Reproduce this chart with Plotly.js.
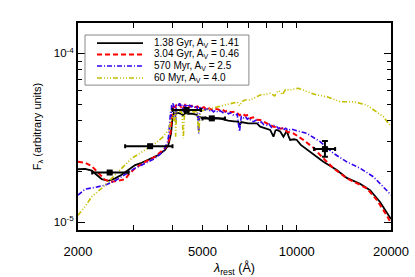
<!DOCTYPE html>
<html>
<head>
<meta charset="utf-8">
<script src="https://cdn.plot.ly/plotly-3.0.1.min.js"></script>
<style>html,body{margin:0;padding:0;background:#fff;}#chart{width:415px;height:277px;}</style>
</head>
<body>
<div id="chart"></div>
<script>
// ---- Data (wavelength in Angstrom, flux in arbitrary units) ----
const blackLam = [2000,2108,2213,2297,2382,2502,2628,2759,2898,3044,3196,3400,3613,3794,3888,3966,4012,4054,4100,4150,4250,4340,4400,4500,4600,4700,4800,4861,4900,4990,5100,5250,5400,5613,5800,6041,6300,6502,6563,6650,6998,7459,7642,7900,8223,8425,8550,8638,8850,9067,9200,9296,9400,9523,9800,10004,10300,11030,12165,13424,14444,15926,17141,18448,19383,20000];
const blackFlux = [2.06e-5,2.07e-5,2.02e-5,1.91e-5,1.80e-5,1.76e-5,1.82e-5,1.91e-5,2.04e-5,2.18e-5,2.25e-5,2.36e-5,2.50e-5,2.68e-5,2.87e-5,3.36e-5,4.22e-5,4.49e-5,4.35e-5,4.45e-5,4.40e-5,4.30e-5,4.42e-5,4.38e-5,4.40e-5,4.36e-5,4.32e-5,4.10e-5,4.20e-5,4.13e-5,4.18e-5,4.10e-5,4.15e-5,4.13e-5,4.05e-5,3.99e-5,3.96e-5,3.94e-5,3.75e-5,3.92e-5,3.85e-5,3.85e-5,3.68e-5,3.62e-5,3.52e-5,3.21e-5,3.50e-5,3.52e-5,3.45e-5,3.21e-5,3.40e-5,3.48e-5,3.25e-5,3.07e-5,3.10e-5,3.07e-5,2.87e-5,2.61e-5,2.28e-5,2.04e-5,1.83e-5,1.69e-5,1.55e-5,1.32e-5,1.15e-5,1.045e-5];

const redLam = [2000,2108,2213,2325,2443,2563,2692,2829,2898,3044,3277,3526,3701,3839,3880,3937,3960,3983,4000,4033,4060,4090,4120,4150,4184,4230,4270,4310,4350,4400,4450,4500,4560,4612,4680,4750,4820,4880,4965,5050,5150,5250,5350,5450,5613,5700,5800,5900,6000,6150,6345,6450,6563,6700,6850,6998,7101,7250,7400,7642,7800,8000,8200,8425,8650,8850,9067,9296,9500,9758,10502,11303,11872,13094,14444,15545,16731,18008,19383,20000];
const redFlux = [2.28e-5,2.25e-5,2.15e-5,1.95e-5,1.78e-5,1.74e-5,1.76e-5,1.80e-5,1.91e-5,2.09e-5,2.28e-5,2.44e-5,2.62e-5,2.80e-5,2.95e-5,3.21e-5,3.60e-5,4.03e-5,4.60e-5,4.83e-5,4.95e-5,4.75e-5,4.95e-5,4.85e-5,4.88e-5,4.98e-5,4.82e-5,4.92e-5,4.80e-5,4.95e-5,4.85e-5,4.93e-5,4.82e-5,4.88e-5,4.95e-5,4.80e-5,4.85e-5,4.72e-5,4.73e-5,4.80e-5,4.65e-5,4.72e-5,4.62e-5,4.70e-5,4.66e-5,4.58e-5,4.64e-5,4.52e-5,4.58e-5,4.48e-5,4.51e-5,4.44e-5,4.30e-5,4.40e-5,4.28e-5,4.31e-5,4.13e-5,4.18e-5,4.05e-5,4.03e-5,3.95e-5,3.88e-5,3.78e-5,3.68e-5,3.66e-5,3.58e-5,3.60e-5,3.44e-5,3.40e-5,3.36e-5,3.07e-5,2.76e-5,2.50e-5,2.09e-5,1.82e-5,1.70e-5,1.59e-5,1.36e-5,1.10e-5,0.986e-5];

const blueLam = [2000,2108,2270,2443,2628,2829,3044,3277,3526,3747,3867,3900,3920,3937,3950,3965,3983,4000,4020,4050,4080,4102,4120,4150,4184,4220,4260,4300,4340,4380,4420,4460,4500,4550,4612,4680,4740,4800,4861,4900,4960,5020,5090,5170,5250,5330,5420,5500,5600,5700,5751,5850,5950,6050,6150,6250,6345,6450,6563,6650,6750,6850,6950,7050,7150,7276,7400,7550,7700,7850,8026,8150,8300,8450,8638,8750,8900,9067,9200,9400,9600,9758,10000,10770,11872,13094,14444,15926,17564,18902,20000];
const blueFlux = [1.45e-5,1.57e-5,1.61e-5,1.66e-5,1.76e-5,1.91e-5,2.09e-5,2.23e-5,2.39e-5,2.62e-5,3.00e-5,3.30e-5,3.80e-5,4.03e-5,4.50e-5,4.20e-5,4.94e-5,4.80e-5,5.05e-5,4.85e-5,4.70e-5,3.90e-5,4.90e-5,5.00e-5,4.94e-5,5.05e-5,4.85e-5,4.95e-5,4.50e-5,4.95e-5,4.85e-5,5.00e-5,4.82e-5,4.92e-5,4.83e-5,4.90e-5,4.75e-5,4.85e-5,3.36e-5,4.80e-5,4.68e-5,4.75e-5,4.62e-5,4.70e-5,4.55e-5,4.65e-5,4.50e-5,4.60e-5,4.48e-5,4.56e-5,4.51e-5,4.42e-5,4.52e-5,4.38e-5,4.45e-5,4.32e-5,4.31e-5,4.36e-5,3.44e-5,4.25e-5,4.15e-5,4.22e-5,4.08e-5,4.15e-5,3.98e-5,3.94e-5,4.02e-5,3.86e-5,3.92e-5,3.78e-5,3.76e-5,3.82e-5,3.65e-5,3.74e-5,3.68e-5,3.58e-5,3.66e-5,3.52e-5,3.60e-5,3.50e-5,3.56e-5,3.52e-5,3.48e-5,3.36e-5,3.00e-5,2.56e-5,2.28e-5,2.09e-5,1.86e-5,1.62e-5,1.45e-5];

const yellowLam = [2000,2108,2213,2382,2563,2759,2969,3277,3526,3747,3888,3940,3983,4020,4050,4083,4102,4130,4200,4260,4300,4340,4380,4450,4502,4600,4700,4800,4861,4920,5090,5300,5613,5900,6189,6450,6563,6700,6830,7101,7400,7642,7900,8223,8500,8700,8849,9000,9200,9523,9800,10121,10500,10770,11589,12472,13752,15162,16731,18008,18902,20000];
const yellowFlux = [1.10e-5,1.24e-5,1.42e-5,1.59e-5,1.82e-5,2.09e-5,2.39e-5,2.68e-5,2.93e-5,3.21e-5,3.52e-5,3.80e-5,4.03e-5,4.30e-5,4.00e-5,4.51e-5,3.21e-5,4.50e-5,4.45e-5,4.55e-5,4.40e-5,3.14e-5,4.50e-5,4.45e-5,4.51e-5,4.55e-5,4.48e-5,4.58e-5,3.40e-5,4.55e-5,4.62e-5,4.70e-5,4.83e-5,4.95e-5,5.06e-5,5.15e-5,4.90e-5,5.20e-5,5.29e-5,5.29e-5,5.50e-5,5.67e-5,5.70e-5,5.80e-5,5.60e-5,6.00e-5,5.93e-5,5.70e-5,6.10e-5,6.06e-5,6.15e-5,6.21e-5,6.05e-5,5.93e-5,5.67e-5,5.54e-5,5.17e-5,5.17e-5,4.94e-5,4.51e-5,4.22e-5,3.68e-5];

// photometry points with wavelength bins and flux errors
const photLam = [2525,3400,4446,5352,12300];
const photFlux = [1.97e-5,2.82e-5,4.62e-5,4.12e-5,2.71e-5];
const photLamLo = [2220,2829,4010,4997,11360];
const photLamHi = [2900,4008,4944,5897,13260];
const photFluxLo = [1.97e-5,2.82e-5,4.62e-5,4.12e-5,2.44e-5];
const photFluxHi = [1.97e-5,2.82e-5,4.62e-5,4.12e-5,3.03e-5];

const legendLabels = ['1.38 Gyr, A<sub>V</sub> = 1.41','3.04 Gyr, A<sub>V</sub> = 0.46','570 Myr, A<sub>V</sub> = 2.5','60 Myr, A<sub>V</sub> = 4.0'];
const xTickVals = [2000,5000,10000,20000];
const xTickText = ['2000','5000','10000','20000'];
const xMinorVals = [3000,4000,6000,7000,8000,9000];
const yTickVals = [1e-5,1e-4];
const yTickText = ['10<sup>-5</sup>','10<sup>-4</sup>'];
const yMinorVals = [2e-5,3e-5,4e-5,5e-5,6e-5,7e-5,8e-5,9e-5];

// ---- Styles ----
const FONT = 'Liberation Sans, Arial, Helvetica, sans-serif';
const colors = ['#000000','#ff0000','#3300ee','#c4be00'];
const dashes = ['solid','5px,3px','5px,2px,1px,2px','5px,2px,1px,2px,1px,2px,1px,2px'];
const widths = [1.8,2,1.6,1.6];

const series = [[blackLam,blackFlux],[redLam,redFlux],[blueLam,blueFlux],[yellowLam,yellowFlux]];
const traces = series.map((s,i)=>({
  x:s[0], y:s[1], type:'scatter', mode:'lines',
  line:{color:colors[i], width:widths[i], dash:dashes[i]},
  hoverinfo:'skip'
}));
traces.push({
  x:photLam, y:photFlux, type:'scatter', mode:'markers',
  marker:{symbol:'square', size:6, color:'#000'},
  error_x:{type:'data', symmetric:false,
    array:photLam.map((v,i)=>photLamHi[i]-v),
    arrayminus:photLam.map((v,i)=>v-photLamLo[i]),
    color:'#000', thickness:2, width:2},
  error_y:{type:'data', symmetric:false,
    array:photFlux.map((v,i)=>photFluxHi[i]-v),
    arrayminus:photFlux.map((v,i)=>v-photFluxLo[i]),
    color:'#000', thickness:2, width:3},
  hoverinfo:'skip'
});

// ---- manual legend (paper coordinates) ----
const L = {x0:0.0224, x1:0.546, y0:0.700, y1:0.942, lx0:0.0607, lx1:0.2077, tx:0.2364, rows:[0.903,0.848,0.792,0.734]};
const shapes = [{type:'rect', xref:'paper', yref:'paper', x0:L.x0, x1:L.x1, y0:L.y0, y1:L.y1,
  line:{color:'#888', width:1}, fillcolor:'#fff', layer:'above'}];
const annotations = [];
legendLabels.forEach((t,i)=>{
  shapes.push({type:'line', xref:'paper', yref:'paper', x0:L.lx0, x1:L.lx1, y0:L.rows[i], y1:L.rows[i],
    line:{color:colors[i], width:widths[i], dash:dashes[i]}, layer:'above'});
  annotations.push({xref:'paper', yref:'paper', x:L.tx, y:L.rows[i], xanchor:'left', yanchor:'middle',
    text:t, showarrow:false, font:{family:FONT, size:10, color:'#000'}});
});

const layout = {
  width:415, height:277,
  margin:{l:78, r:24, t:23, b:47},
  paper_bgcolor:'#fff', plot_bgcolor:'#fff',
  showlegend:false,
  font:{family:FONT, color:'#000'},
  xaxis:{
    type:'log', range:[Math.log10(2000), Math.log10(20000)],
    tickmode:'array', tickvals:xTickVals, ticktext:xTickText,
    ticks:'inside', ticklen:5, tickwidth:1, tickcolor:'#000',
    minor:{tickmode:'array', tickvals:xMinorVals, ticks:'inside', ticklen:5, tickwidth:1, tickcolor:'#000', showgrid:false},
    showline:true, linewidth:2, linecolor:'#000', mirror:'ticks',
    showgrid:false, zeroline:false, ticklabelstandoff:8,
    tickfont:{family:FONT, size:13, color:'#000'},
    title:{text:'<i>λ</i><sub>rest</sub> (Å)', font:{family:FONT, size:12.5, color:'#000'}, standoff:7}
  },
  yaxis:{
    type:'log', range:[-5.0456, -3.8207],
    tickmode:'array', tickvals:yTickVals, ticktext:yTickText,
    ticks:'inside', ticklen:7, tickwidth:1, tickcolor:'#000',
    minor:{tickmode:'array', tickvals:yMinorVals, ticks:'inside', ticklen:4, tickwidth:1, tickcolor:'#000', showgrid:false},
    showline:true, linewidth:2, linecolor:'#000', mirror:'ticks',
    showgrid:false, zeroline:false,
    tickfont:{family:FONT, size:11.5, color:'#000'},
    title:{text:'F<sub>λ</sub> (arbitrary units)', font:{family:FONT, size:11, color:'#000'}, standoff:10}
  },
  shapes:shapes,
  annotations:annotations
};

Plotly.newPlot('chart', traces, layout, {displayModeBar:false, staticPlot:true});
</script>
</body>
</html>
